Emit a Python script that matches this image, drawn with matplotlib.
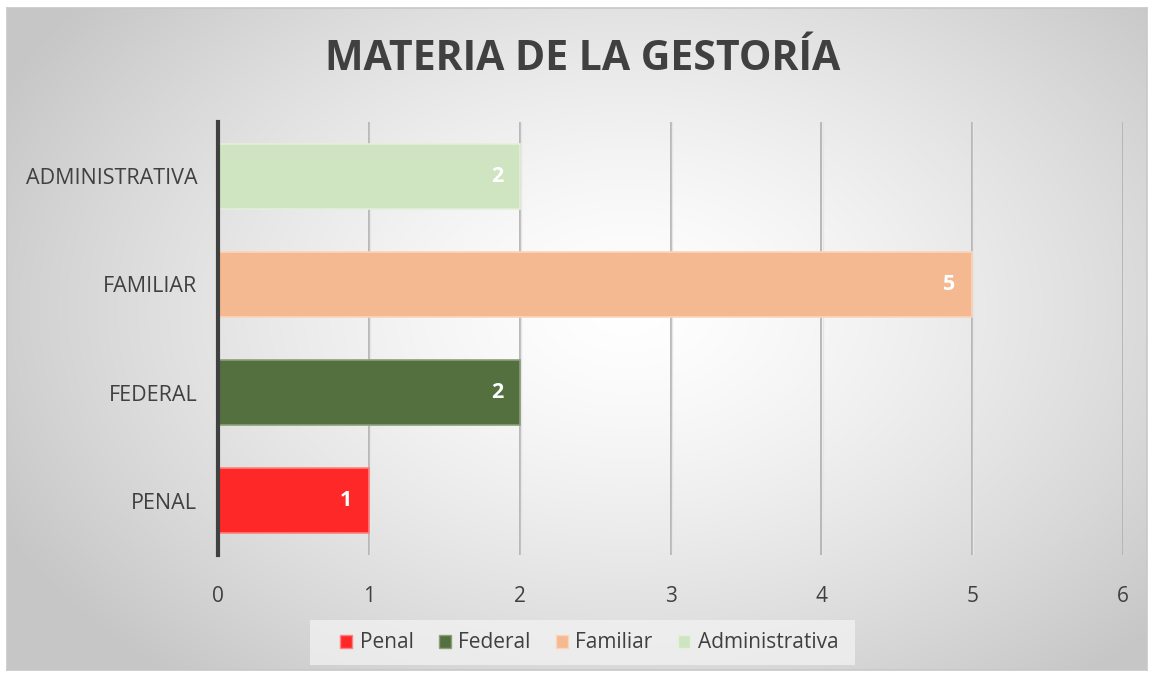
import numpy as np
import matplotlib.pyplot as plt
from matplotlib.patches import Rectangle, Patch

categorias = ['PENAL', 'FEDERAL', 'FAMILIAR', 'ADMINISTRATIVA']
leyenda = ['Penal', 'Federal', 'Familiar', 'Administrativa']
valores = [1, 2, 5, 2]
colores = ['#ff2828', '#55703f', '#f4b990', '#cfe4c0']
bordes = ['#ff8080', '#8aa07a', '#fbd5bb', '#e3f0da']
xticks = [0, 1, 2, 3, 4, 5, 6]

W, H = 1154, 677
fig = plt.figure(figsize=(W / 100, H / 100), dpi=100)
fig.patch.set_facecolor('white')

# fondo con degradado radial
bg = fig.add_axes([7 / W, 1 - 670 / H, 1140 / W, 662 / H], zorder=-5)
yy, xx = np.mgrid[0:662, 0:1140]
d = np.sqrt(((xx - 620) / 700.0) ** 2 + ((yy - 300) / 480.0) ** 2)
d = np.clip(d, 0, 1)
g = 1.0 - 0.22 * d ** 1.4
bg.imshow(np.dstack([g, g, g]), aspect='auto', extent=[0, 1, 0, 1], interpolation='bilinear')
bg.set_xlim(0, 1)
bg.set_ylim(0, 1)
bg.set_xticks([])
bg.set_yticks([])
for s in bg.spines.values():
    s.set_color('#c8c8c8')
    s.set_linewidth(1.2)

# ejes principales
x0, x1 = 218, 1123
y0, y1 = 122, 555
ax = fig.add_axes([x0 / W, 1 - y1 / H, (x1 - x0) / W, (y1 - y0) / H])
ax.patch.set_alpha(0)
pos = np.arange(len(categorias))
ax.barh(pos, valores, height=0.6, color=colores, edgecolor=bordes, linewidth=1.2, zorder=3)
for p, v in zip(pos, valores):
    ax.text(v - 0.11, p, str(v), ha='right', va='center', color='white',
            fontsize=15.5, fontweight='bold', family='Open Sans', zorder=4)

ax.set_xlim(0, 6)
ax.set_ylim(-0.5, 3.5)
ax.set_xticks(xticks)
ax.set_xticklabels([str(t) for t in xticks], fontsize=15, color='#404040', family='Open Sans')
ax.set_yticks(pos)
ax.set_yticklabels(categorias, fontsize=15.5, color='#404040', family='Open Sans')
ax.tick_params(axis='y', length=0, pad=15)
ax.tick_params(axis='x', length=0, pad=22)
for t in xticks[1:]:
    ax.axvline(t, color='#b4b4b4', lw=1.3, zorder=1)
    ax.axvline(t + 0.008, color='#e6e6e6', lw=1.0, zorder=1)
for s in ['top', 'right', 'bottom']:
    ax.spines[s].set_visible(False)
ax.spines['left'].set_color('#404040')
ax.spines['left'].set_linewidth(3)
ax.spines['left'].set_zorder(5)

fig.text(583 / W, 1 - 60 / H, 'MATERIA DE LA GESTORÍA', ha='center', va='center',
         fontsize=29.5, fontweight='bold', color='#404040', family='Open Sans')

# leyenda
fig.patches.append(Rectangle((310 / W, 1 - 665 / H), 545 / W, 45 / H,
                             transform=fig.transFigure, facecolor='#f4f4f4',
                             edgecolor='none', alpha=0.7, zorder=-1))
handles = [Patch(facecolor=c, edgecolor=b, label=l) for c, b, l in zip(colores, bordes, leyenda)]
fig.legend(handles=handles, loc='center', bbox_to_anchor=(589 / W, 1 - 643 / H), ncol=4,
           frameon=False, prop={'family': 'Open Sans', 'size': 15}, labelcolor='#404040',
           handlelength=0.6, handleheight=0.6, handletextpad=0.35, columnspacing=1.2)

fig.savefig('out.png', dpi=100)
